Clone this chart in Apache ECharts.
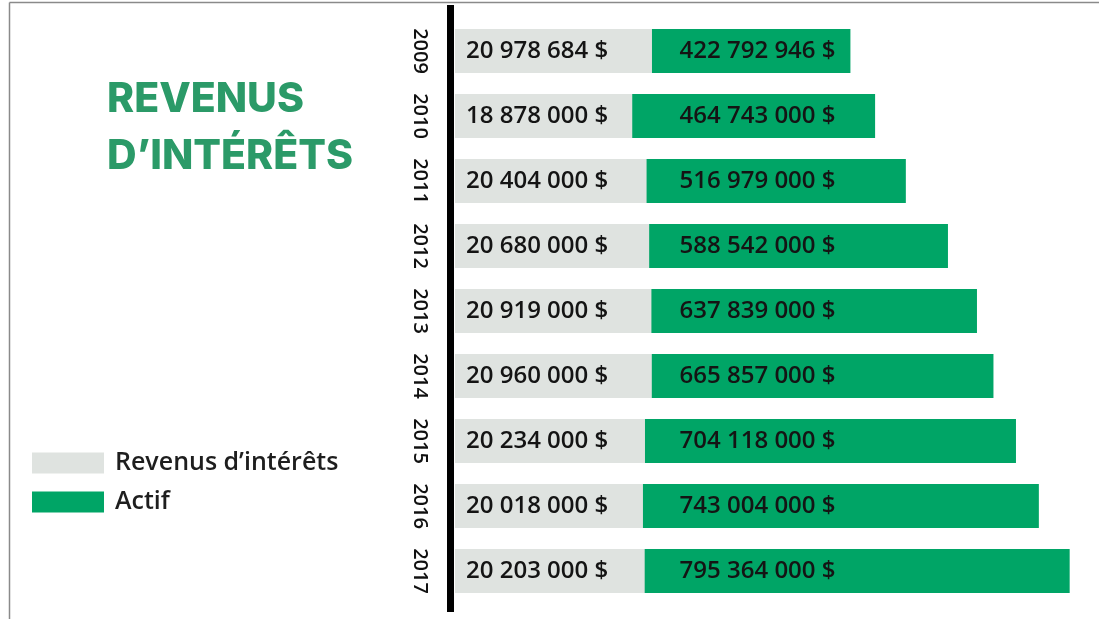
<!DOCTYPE html>
<html>
<head>
<meta charset="utf-8">
<script src="https://cdn.jsdelivr.net/npm/echarts@6/dist/echarts.min.js"></script>
<style>
html,body{margin:0;padding:0;background:#fff;}
#c{width:1099px;height:619px;}
</style>
</head>
<body>
<div id="c"></div>
<script>
// ---- data ----
const years = ['2009','2010','2011','2012','2013','2014','2015','2016','2017'];
const revenus = [20978684, 18878000, 20404000, 20680000, 20919000, 20960000, 20234000, 20018000, 20203000];
const actif = [422792946, 464743000, 516979000, 588542000, 637839000, 665857000, 704118000, 743004000, 795364000];
const seriesNames = ['Revenus d’intérêts', 'Actif'];
const titleText = 'REVENUS\nD’INTÉRÊTS';

function fmt(v) {
  return String(v).replace(/\B(?=(\d{3})+(?!\d))/g, ' ') + ' $';
}

const chart = echarts.init(document.getElementById('c'));
const labelStyle = {
  show: true,
  color: '#141414',
  fontFamily: 'Open Sans',
  fontWeight: 600,
  fontSize: 24
};

chart.setOption({
  backgroundColor: '#ffffff',
  animation: false,
  title: {
    text: titleText,
    left: 107,
    top: 71,
    padding: 0,
    textStyle: {
      color: '#2b9a68',
      fontFamily: 'Inter',
      fontWeight: 800,
      fontSize: 41,
      lineHeight: 57
    }
  },
  legend: {
    data: seriesNames,
    orient: 'vertical',
    left: 32,
    top: 450,
    padding: 0,
    icon: 'rect',
    itemWidth: 72,
    itemHeight: 21,
    itemGap: 13,
    selectedMode: false,
    textStyle: {
      color: '#1e1e1e',
      fontFamily: 'Open Sans',
      fontWeight: 600,
      fontSize: 25,
      lineHeight: 26,
      padding: [0, 0, 0, 6]
    }
  },
  grid: { left: 455, right: 4, top: 18.5, bottom: 15.5, containLabel: false },
  xAxis: [
    { type: 'value', min: 0, max: 68162000, show: false },
    { type: 'value', min: -249100000, max: 838400000, show: false }
  ],
  yAxis: {
    type: 'category',
    data: years,
    inverse: true,
    axisLine: { show: false },
    axisTick: { show: false },
    splitLine: { show: false },
    axisLabel: {
      rotate: -90,
      margin: 25,
      color: '#111',
      fontFamily: 'Open Sans',
      fontWeight: 600,
      fontSize: 20
    }
  },
  series: [
    {
      name: seriesNames[1],
      type: 'bar',
      xAxisIndex: 1,
      data: actif,
      barWidth: 44,
      barGap: '-100%',
      z: 2,
      itemStyle: { color: '#00a566' },
      label: Object.assign({}, labelStyle, {
        position: [78, '50%'],
        align: 'left',
        verticalAlign: 'middle',
        formatter: p => fmt(p.value)
      })
    },
    {
      name: seriesNames[0],
      type: 'bar',
      xAxisIndex: 0,
      data: revenus,
      barWidth: 44,
      barGap: '-100%',
      z: 3,
      itemStyle: { color: '#dfe3e0' },
      label: Object.assign({}, labelStyle, {
        position: 'insideLeft',
        distance: 11,
        formatter: p => fmt(p.value)
      })
    }
  ],
  graphic: [
    { type: 'rect', shape: { x: 447, y: 5, width: 7, height: 607 }, style: { fill: '#000' }, z: 10 },
    { type: 'line', shape: { x1: 9.5, y1: 2.5, x2: 1099, y2: 2.5 }, style: { stroke: '#8a8a8a', lineWidth: 1.5 } },
    { type: 'line', shape: { x1: 9.5, y1: 2.5, x2: 9.5, y2: 619 }, style: { stroke: '#8a8a8a', lineWidth: 1.5 } }
  ]
});
</script>
</body>
</html>
